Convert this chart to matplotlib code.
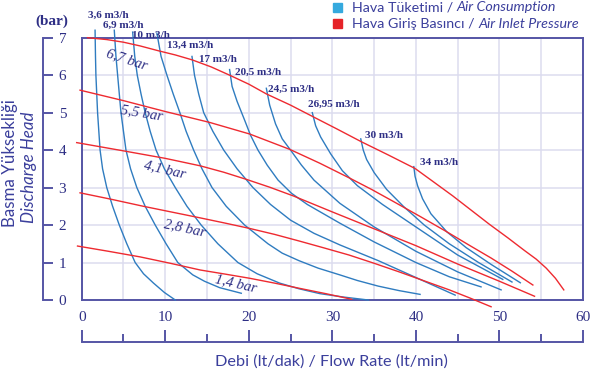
import matplotlib
matplotlib.use('Agg')
import matplotlib.pyplot as plt
from matplotlib.ticker import MultipleLocator
from matplotlib.patches import Rectangle

# Air inlet pressure curves: (flow lt/min, head bar)
inlet_67 = [(0.7, 7.0), (3.0, 6.95), (5.0, 6.88), (7.0, 6.78), (9.2, 6.65), (11.2, 6.54), (13.2, 6.41),
            (15.5, 6.22), (17.7, 6.0), (20.0, 5.76), (22.1, 5.5), (25.0, 5.2), (27.7, 4.89), (30.5, 4.57),
            (33.5, 4.22), (36.7, 3.87), (39.9, 3.51), (42.0, 3.17), (44.4, 2.78), (46.6, 2.4),
            (48.8, 2.02), (51.0, 1.66), (53.0, 1.32), (54.4, 1.09), (55.6, 0.85), (56.7, 0.58), (57.7, 0.27)]
inlet_55 = [(-0.2, 5.6), (5.0, 5.32), (10.0, 5.03), (15.3, 4.74), (20.1, 4.43), (24.9, 4.02),
            (28.5, 3.65), (32.1, 3.25), (34.7, 2.95), (37.3, 2.63), (40.5, 2.23), (43.7, 1.82),
            (46.4, 1.46), (49.0, 1.12), (51.5, 0.77), (54.0, 0.4)]
inlet_41 = [(-0.6, 4.2), (5.0, 3.98), (10.0, 3.78), (14.2, 3.58), (17.0, 3.41), (19.7, 3.22),
            (22.5, 3.01), (25.3, 2.78), (30.0, 2.35), (35.0, 1.9), (40.0, 1.45), (45.0, 0.96),
            (50.0, 0.5), (54.2, 0.1)]
inlet_28 = [(-0.2, 2.86), (3.5, 2.69), (7.4, 2.5), (10.7, 2.35), (14.0, 2.2), (17.0, 2.06),
            (20.1, 1.91), (23.1, 1.75), (26.1, 1.57), (29.0, 1.39), (32.0, 1.2), (35.0, 0.98),
            (38.0, 0.75), (41.0, 0.51), (44.0, 0.27), (46.5, 0.05), (49.0, -0.18)]
inlet_14 = [(-0.5, 1.44), (3.2, 1.3), (7.0, 1.15), (10.6, 0.98), (14.2, 0.8), (17.2, 0.69),
            (20.1, 0.58), (23.1, 0.45), (26.1, 0.31), (29.2, 0.17), (32.3, 0.02)]
inlet_curves = [inlet_67, inlet_55, inlet_41, inlet_28, inlet_14]
inlet_labels = ['6,7 bar', '5,5 bar', '4,1 bar', '2,8 bar', '1,4 bar']

# Air consumption curves
air_36 = [(1.6, 7.2), (1.65, 6.5), (1.7, 6.0), (1.8, 5.5), (1.9, 5.0), (2.05, 4.5), (2.2, 4.0),
          (2.5, 3.5), (3.0, 3.0), (3.7, 2.5), (4.5, 2.0), (5.4, 1.5), (6.4, 1.0), (7.4, 0.7),
          (8.6, 0.45), (9.9, 0.2), (11.2, 0.0)]
air_69 = [(3.9, 7.2), (4.1, 6.5), (4.3, 6.0), (4.5, 5.5), (4.7, 5.0), (5.0, 4.5), (5.3, 4.0),
          (5.85, 3.5), (6.6, 3.0), (7.6, 2.5), (8.8, 2.0), (10.1, 1.5), (11.5, 1.0), (13.3, 0.67),
          (14.7, 0.5), (16.5, 0.33), (19.1, 0.18)]
air_10 = [(6.1, 7.15), (6.35, 6.5), (6.65, 6.0), (7.1, 5.5), (7.6, 5.0), (8.2, 4.5), (8.9, 4.0),
          (9.9, 3.5), (11.2, 3.0), (12.6, 2.5), (14.3, 2.0), (16.3, 1.5), (18.7, 1.0), (21.0, 0.7),
          (23.7, 0.45), (26.0, 0.3), (28.5, 0.17), (31.3, 0.08), (34.3, 0.0)]
air_134 = [(9.0, 7.12), (9.5, 6.5), (10.2, 6.0), (10.95, 5.5), (11.75, 5.0), (12.5, 4.5), (13.4, 4.0),
           (14.4, 3.5), (15.6, 3.0), (17.3, 2.5), (19.5, 2.0), (22.3, 1.5), (24.0, 1.25), (26.0, 1.05),
           (28.3, 0.85), (30.9, 0.67), (33.0, 0.52), (35.5, 0.37), (38.0, 0.25), (40.5, 0.15)]
air_17 = [(13.2, 6.5), (13.5, 6.0), (14.0, 5.5), (14.6, 5.0), (15.7, 4.5), (17.0, 4.0), (18.6, 3.5),
          (20.5, 3.0), (22.6, 2.55), (25.0, 2.13), (27.8, 1.78), (30.9, 1.47), (35.5, 1.05),
          (40.0, 0.6), (44.7, 0.13)]
air_205 = [(17.7, 6.15), (18.0, 5.7), (18.6, 5.3), (19.5, 4.8), (20.2, 4.4), (21.1, 4.0), (22.2, 3.6),
           (23.5, 3.2), (25.1, 2.85), (27.0, 2.55), (30.9, 2.05), (35.0, 1.55), (40.0, 1.0),
           (44.0, 0.62), (47.8, 0.35)]
air_245 = [(22.1, 5.65), (22.5, 5.2), (23.2, 4.7), (24.0, 4.3), (25.0, 4.0), (26.3, 3.6), (27.8, 3.2),
           (30.9, 2.58), (35.0, 1.95), (40.0, 1.3), (45.0, 0.75), (50.2, 0.27)]
air_2695 = [(27.6, 5.0), (28.0, 4.65), (28.6, 4.35), (29.8, 3.9), (31.2, 3.45), (33.0, 3.05),
            (36.0, 2.55), (40.0, 1.95), (45.0, 1.2), (50.4, 0.55)]
air_30 = [(33.4, 4.3), (33.7, 4.0), (34.1, 3.75), (35.0, 3.4), (36.5, 2.95), (38.5, 2.5),
          (41.0, 2.0), (44.0, 1.5), (47.5, 1.0), (51.5, 0.48)]
air_34 = [(39.75, 3.56), (39.9, 3.3), (40.2, 3.05), (40.8, 2.7), (41.8, 2.3), (43.7, 1.82),
          (46.0, 1.4), (49.0, 0.95), (52.5, 0.46)]
air_curves = [air_36, air_69, air_10, air_134, air_17, air_205, air_245, air_2695, air_30, air_34]
air_labels = ['3,6 m3/h', '6,9 m3/h', '10 m3/h', '13,4 m3/h', '17 m3/h', '20,5 m3/h',
              '24,5 m3/h', '26,95 m3/h', '30 m3/h', '34 m3/h']

x_ticks = [0, 10, 20, 30, 40, 50, 60]
y_ticks = [0, 1, 2, 3, 4, 5, 6, 7]

navy = '#2e2f85'
text_c = '#3b3f9c'
frame_c = '#5555a5'
grid_c = '#dcdcef'
blue = '#2f7cc0'
red = '#ee2a30'

W, H = 590, 371
fig = plt.figure(figsize=(W / 100, H / 100), dpi=100)
x0, x1, y0, y1 = 81.7, 583, 300, 37.7   # plot frame in pixels
ax = fig.add_axes([x0 / W, 1 - y0 / H, (x1 - x0) / W, (y0 - y1) / H])
ax.set_xlim(0, 60)
ax.set_ylim(0, 7)
ax.set_xticks(x_ticks)
ax.xaxis.set_minor_locator(MultipleLocator(5))
ax.set_yticks(y_ticks)
ax.grid(which='both', color=grid_c, lw=1.1)
ax.set_axisbelow(True)
ax.tick_params(axis='x', which='both', length=0, pad=8, labelsize=11, labelcolor=navy)
ax.tick_params(axis='y', which='both', length=0, labelleft=False)
for lab in ax.get_xticklabels():
    lab.set_family('Liberation Serif')
for s in ax.spines.values():
    s.set_color(frame_c)
    s.set_linewidth(1.4)

for c in air_curves:
    ax.plot([p[0] for p in c], [p[1] for p in c], color=blue, lw=1.0, clip_on=False, zorder=3)
for c in inlet_curves:
    ax.plot([p[0] for p in c], [p[1] for p in c], color=red, lw=1.0, clip_on=False, zorder=4)

# flow labels at top of each blue curve
air_lab_pos = [(0.76, 7.61), (2.55, 7.33), (6.0, 7.07), (10.2, 6.81), (14.0, 6.41), (18.3, 6.08),
               (22.3, 5.63), (27.1, 5.23), (33.9, 4.38), (40.5, 3.68)]
for lab, (lx, ly) in zip(air_labels, air_lab_pos):
    ax.text(lx, ly, lab, ha='left', va='center', fontsize=8, fontweight='bold',
            family='Liberation Serif', color=navy, clip_on=False, zorder=5)

inlet_lab_pos = [(5.4, 6.42, -18), (7.2, 5.0, -9), (10.0, 3.47, -13), (12.4, 1.92, -12), (18.4, 0.45, -13)]
for lab, (lx, ly, rot) in zip(inlet_labels, inlet_lab_pos):
    ax.text(lx, ly, lab, ha='center', va='center', rotation=rot, fontsize=10.5, style='italic',
            family='Liberation Serif', color=navy, zorder=5)

# separate x ruler below the tick labels
xr = fig.add_axes([x0 / W, 1 - 342 / H, (x1 - x0) / W, 1e-6])
xr.set_xlim(0, 60)
xr.patch.set_visible(False)
for k in ['top', 'left', 'right']:
    xr.spines[k].set_visible(False)
xr.spines['bottom'].set_color(frame_c)
xr.spines['bottom'].set_linewidth(1.4)
xr.set_xticks(x_ticks)
xr.xaxis.set_minor_locator(MultipleLocator(5))
xr.tick_params(axis='x', which='major', direction='in', length=9, width=1.4, color=frame_c, labelbottom=False)
xr.tick_params(axis='x', which='minor', direction='in', length=5.5, width=1.4, color=frame_c)
xr.set_yticks([])

# separate y ruler on the left
yr = fig.add_axes([43.3 / W - 1e-6, 1 - y0 / H, 1e-6, (y0 - y1) / H])
yr.set_ylim(0, 7)
yr.patch.set_visible(False)
for k in ['top', 'bottom', 'left']:
    yr.spines[k].set_visible(False)
yr.spines['right'].set_color(frame_c)
yr.spines['right'].set_linewidth(1.4)
yr.set_xticks([])
yr.set_yticks(y_ticks)
yr.yaxis.tick_right()
yr.tick_params(axis='y', direction='out', length=7.5, width=1.4, color=frame_c, pad=3.5,
               labelsize=11, labelcolor=navy)
for lab in yr.get_yticklabels():
    lab.set_family('Liberation Serif')

fig.text(52 / W, 1 - 21.7 / H, '(bar)', ha='center', va='center', fontsize=11, fontweight='bold',
         family='Liberation Serif', color=navy)

# axis titles
fig.text(10 / W, 1 - 163 / H, 'Basma Yüksekliği', rotation=90, ha='center', va='center',
         fontsize=12.2, family='Lato', color=text_c)
fig.text(29 / W, 1 - 167 / H, 'Discharge Head', rotation=90, ha='center', va='center',
         fontsize=12.2, family='Lato', style='italic', color=text_c)
fig.text(331 / W, 1 - 362 / H, 'Debi (lt/dak) / Flow Rate (lt/min)', ha='center', va='center',
         fontsize=11.7, family='Lato', color=text_c)

# legend
rend = fig.canvas.get_renderer()
leg_items = [('Hava Tüketimi /', 'Air Consumption', '#35a9de', 7.0),
             ('Hava Giriş Basıncı /', 'Air Inlet Pressure', '#e52328', 23.5)]
for plain, ital, col, py in leg_items:
    fig.add_artist(Rectangle((333 / W, 1 - (py + 4.5) / H), 9 / W, 9 / H, color=col,
                             transform=fig.transFigure))
    t = fig.text(351.7 / W, 1 - py / H, plain, ha='left', va='center', fontsize=10.3,
                 family='Lato', color=text_c)
    bb = t.get_window_extent(renderer=rend)
    fig.text((bb.x1 + 4) / W, 1 - py / H, ital, ha='left', va='center', fontsize=10.3,
             family='Lato', style='italic', color=text_c)

fig.savefig('out.png', dpi=100)
